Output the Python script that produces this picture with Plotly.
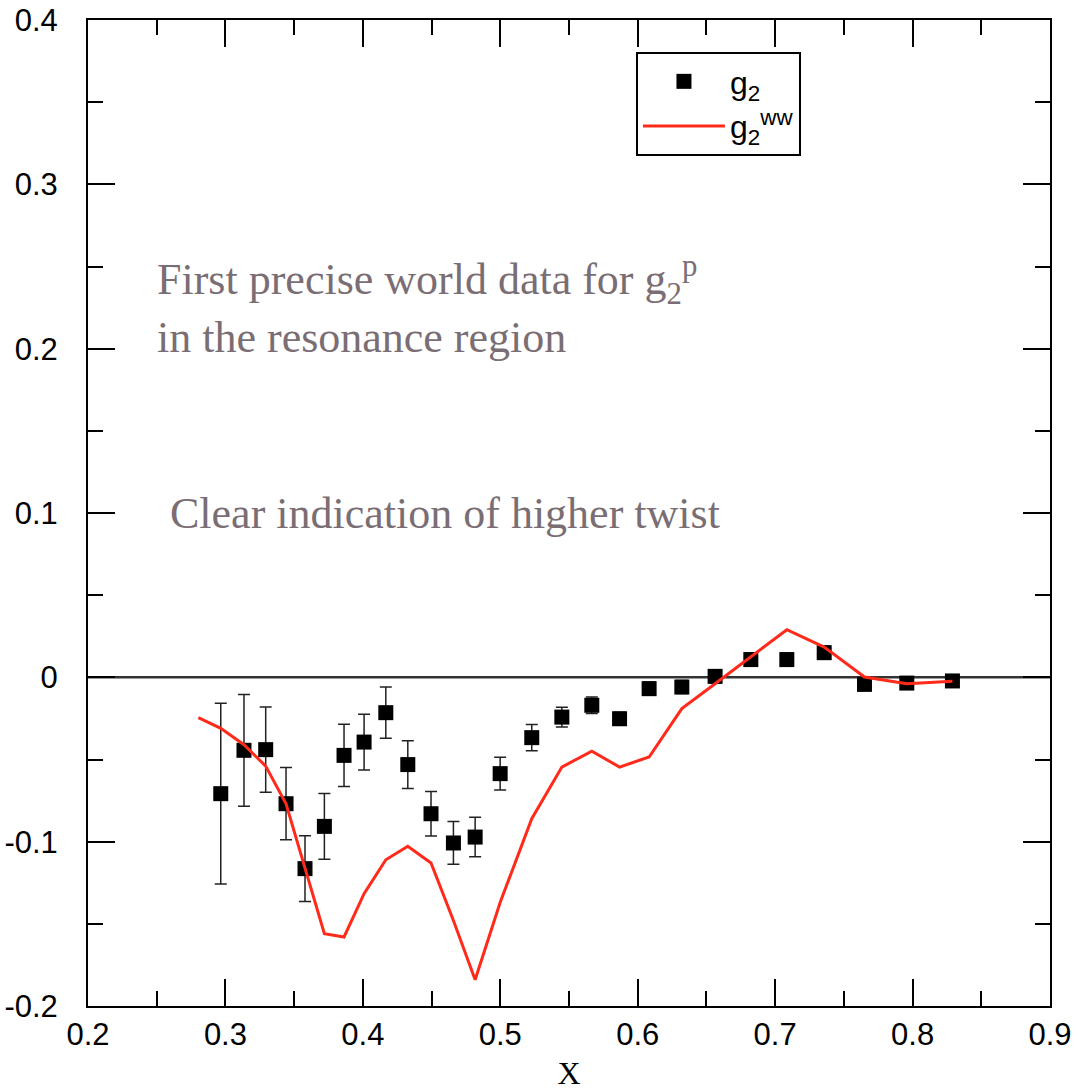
import plotly.graph_objects as go

# g2 data points
x_g2 = [0.2966, 0.3135, 0.3293, 0.3441, 0.3579, 0.372, 0.3863, 0.4009, 0.4167, 0.4327,
        0.4496, 0.4659, 0.4817, 0.4999, 0.5229, 0.5448, 0.5666, 0.5868, 0.6083, 0.6321,
        0.6563, 0.6823, 0.7085, 0.7357, 0.765, 0.7958, 0.829]
y_g2 = [-0.0708, -0.0444, -0.044, -0.0769, -0.1164, -0.0907, -0.0475, -0.0394, -0.0215, -0.0531,
        -0.083, -0.1008, -0.0972, -0.0586, -0.0367, -0.0242, -0.017, -0.0252, -0.0069, -0.0059,
        0.0006, 0.0108, 0.0108, 0.015, -0.0043, -0.0035, -0.0022]
err_g2 = [0.055, 0.034, 0.026, 0.022, 0.020, 0.020, 0.019, 0.017, 0.0156, 0.0145,
          0.0135, 0.013, 0.012, 0.010, 0.008, 0.006, 0.005, 0.004, 0.004, 0.004,
          0.004, 0.004, 0.004, 0.004, 0.003, 0.003, 0.003]

# g2 WW curve
x_ww = [0.2803, 0.2966, 0.3135, 0.3293, 0.3441, 0.3579, 0.372, 0.3863, 0.4009, 0.4167,
        0.4327, 0.4496, 0.4659, 0.4817, 0.4999, 0.5229, 0.5448, 0.5666, 0.5868, 0.6083,
        0.6321, 0.6563, 0.6823, 0.7085, 0.7357, 0.765, 0.7958, 0.829]
y_ww = [-0.0245, -0.031, -0.041, -0.054, -0.077, -0.116, -0.156, -0.158, -0.1316, -0.111,
        -0.1028, -0.113, -0.148, -0.184, -0.137, -0.086, -0.0546, -0.0449, -0.0546, -0.0485,
        -0.019, -0.0039, 0.0124, 0.029, 0.0184, 0.0002, -0.0039, -0.0024]

y_ticks = [-0.2, -0.1, 0, 0.1, 0.2, 0.3, 0.4]
y_ticktext = ["-0.2", "-0.1", "0", "0.1", "0.2", "0.3", "0.4"]
x_ticks = [0.2, 0.3, 0.4, 0.5, 0.6, 0.7, 0.8, 0.9]
x_ticktext = ["0.2", "0.3", "0.4", "0.5", "0.6", "0.7", "0.8", "0.9"]

TEXT_COLOR = "#7a6e74"

fig = go.Figure()

# zero line
fig.add_trace(go.Scatter(x=[0.2, 0.9], y=[0, 0], mode="lines",
                         line=dict(color="#333333", width=2.5), showlegend=False,
                         hoverinfo="skip"))

fig.add_trace(go.Scatter(
    x=x_g2, y=y_g2, mode="markers", name="g<sub>2</sub>",
    marker=dict(symbol="square", size=15, color="black"),
    error_y=dict(type="data", array=err_g2, visible=True, color="#222222",
                 thickness=1.5, width=6),
))

fig.add_trace(go.Scatter(
    x=x_ww, y=y_ww, mode="lines", name="g<sub>2</sub><sup>ww</sup>",
    line=dict(color="#ff2a1a", width=3),
))

axis_common = dict(
    showline=True, linecolor="black", linewidth=2, mirror="ticks",
    ticks="inside", ticklen=27, tickwidth=1.5, tickcolor="black",
    showgrid=False, zeroline=False,
    tickfont=dict(family="Liberation Sans, Arial", size=31, color="black"),
)

fig.update_xaxes(range=[0.2, 0.9], tickvals=x_ticks, ticktext=x_ticktext,
                 minor=dict(dtick=0.05, ticks="inside", ticklen=15, tickwidth=1.5,
                            tickcolor="black", showgrid=False),
                 title=dict(text="X", font=dict(family="Liberation Serif, Times New Roman",
                                                size=32, color="black"), standoff=14),
                 **axis_common)
fig.update_yaxes(range=[-0.2, 0.4], tickvals=y_ticks, ticktext=y_ticktext,
                 minor=dict(dtick=0.05, ticks="inside", ticklen=15, tickwidth=1.5,
                            tickcolor="black", showgrid=False),
                 ticklabelstandoff=22,
                 **axis_common)

ann_font = dict(family="Liberation Serif, Times New Roman", size=44, color=TEXT_COLOR)
fig.add_annotation(x=0.2488, y=0.2416, xref="x", yref="y", xanchor="left", yanchor="middle",
                   text="First precise world data for g<sub>2</sub><sup>p</sup>",
                   showarrow=False, font=ann_font)
fig.add_annotation(x=0.2488, y=0.207, xref="x", yref="y", xanchor="left", yanchor="middle",
                   text="in the resonance region", showarrow=False, font=ann_font)
fig.add_annotation(x=0.2583, y=0.0998, xref="x", yref="y", xanchor="left", yanchor="middle",
                   text="Clear indication of higher twist", showarrow=False, font=ann_font)

fig.update_layout(
    width=1078, height=1091,
    margin=dict(l=88, r=28, t=20, b=85, autoexpand=False),
    plot_bgcolor="white", paper_bgcolor="white",
    legend=dict(x=0.5696, y=0.9675, xanchor="left", yanchor="top",
                bordercolor="black", borderwidth=2, bgcolor="white",
                font=dict(family="Liberation Sans, Arial", size=32, color="black"),
                itemwidth=82),
    showlegend=True,
)

fig.write_html("out.html")
